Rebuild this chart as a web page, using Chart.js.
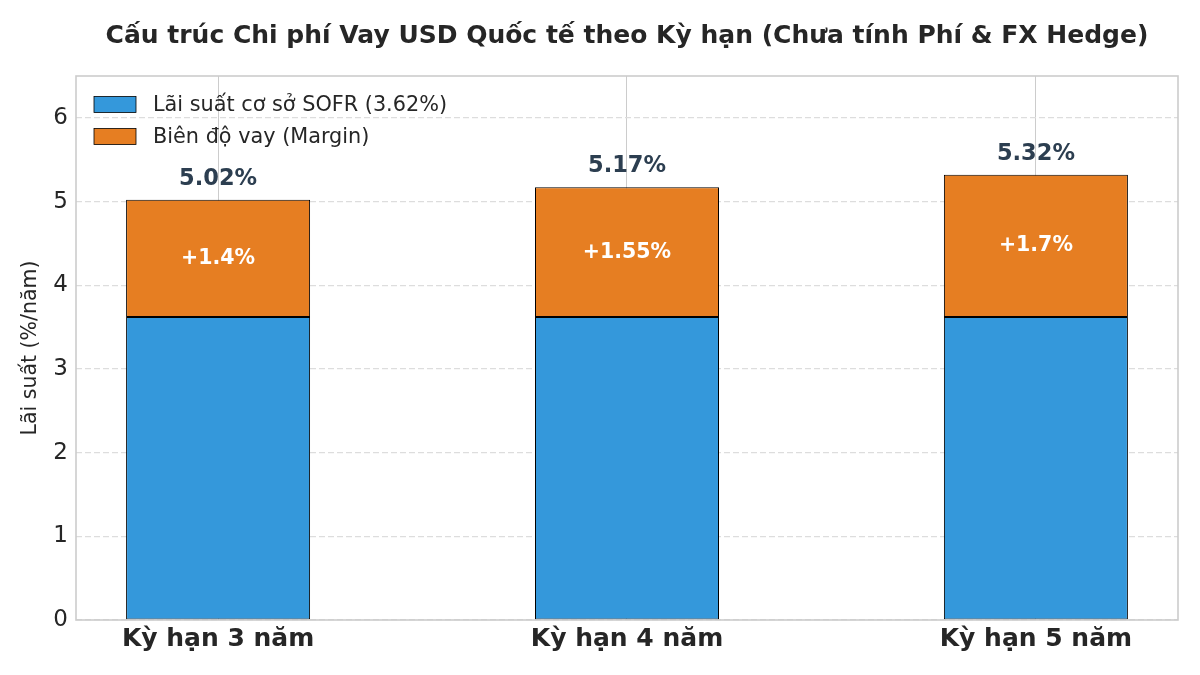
<!DOCTYPE html>
<html>
<head>
<meta charset="utf-8">
<script src="https://cdn.jsdelivr.net/npm/chart.js@4.4.1/dist/chart.umd.min.js"></script>
<style>
html,body{margin:0;padding:0;background:#fff;}
#wrap{width:1200px;height:675px;position:relative;}
</style>
</head>
<body>
<div id="wrap"><canvas id="c" width="1200" height="675"></canvas></div>
<script>
const categories = ['Kỳ hạn 3 năm', 'Kỳ hạn 4 năm', 'Kỳ hạn 5 năm'];
const sofrValues = [3.62, 3.62, 3.62];
const marginValues = [1.4, 1.55, 1.7];
const seriesLabels = ['Lãi suất cơ sở SOFR (3.62%)', 'Biên độ vay (Margin)'];
const yTicks = [0, 1, 2, 3, 4, 5, 6];
const titleText = 'Cấu trúc Chi phí Vay USD Quốc tế theo Kỳ hạn (Chưa tính Phí & FX Hedge)';
const yTitle = 'Lãi suất (%/năm)';

const FONT = "'DejaVu Sans', sans-serif";

const overlay = {
  id: 'overlay',
  afterDatasetsDraw(chart) {
    const ctx = chart.ctx;
    const x = chart.scales.x, y = chart.scales.y;
    ctx.save();
    for (let i = 0; i < categories.length; i++) {
      const total = sofrValues[i] + marginValues[i];
      const cx = x.getPixelForValue(i);
      ctx.textAlign = 'center';
      ctx.textBaseline = 'middle';
      ctx.fillStyle = '#ffffff';
      ctx.font = "bold 20.5px " + FONT;
      ctx.fillText('+' + marginValues[i] + '%', cx, y.getPixelForValue(sofrValues[i] + marginValues[i] / 2));
      ctx.fillStyle = '#2c3e50';
      ctx.font = "bold 22.5px " + FONT;
      ctx.fillText(total.toFixed(2) + '%', cx, y.getPixelForValue(total) - 21);
    }
    const a = chart.chartArea;
    ctx.strokeStyle = '#cccccc';
    ctx.lineWidth = 1.6;
    ctx.strokeRect(a.left, a.top, a.right - a.left, a.bottom - a.top);
    const ds = chart.data.datasets;
    ctx.font = "20.8px " + FONT;
    ctx.textAlign = 'left';
    ctx.textBaseline = 'middle';
    for (let k = 0; k < ds.length; k++) {
      const ly = 104.5 + k * 32;
      ctx.fillStyle = ds[k].backgroundColor;
      ctx.fillRect(94, ly - 8, 42, 16);
      ctx.strokeStyle = '#000';
      ctx.lineWidth = 0.8;
      ctx.strokeRect(94, ly - 8, 42, 16);
      ctx.fillStyle = '#262626';
      ctx.fillText(ds[k].label, 153, ly + 1);
    }
    ctx.restore();
  }
};

new Chart(document.getElementById('c'), {
  type: 'bar',
  data: {
    datasets: [
      {
        label: seriesLabels[0],
        data: sofrValues.map((v, i) => ({x: i, y: v})),
        backgroundColor: '#3498db',
        borderColor: '#000000',
        borderWidth: 1,
        borderSkipped: false
      },
      {
        label: seriesLabels[1],
        data: marginValues.map((v, i) => ({x: i, y: v})),
        backgroundColor: '#e67e22',
        borderColor: '#000000',
        borderWidth: 1,
        borderSkipped: false
      }
    ]
  },
  options: {
    responsive: false,
    animation: false,
    devicePixelRatio: 1,
    layout: {padding: {left: 0, right: 22, top: 0, bottom: 0}},
    datasets: {bar: {categoryPercentage: 0.45, barPercentage: 1.0}},
    plugins: {
      legend: {display: false},
      tooltip: {enabled: false},
      title: {
        display: true,
        text: titleText,
        fullSize: false,
        color: '#262626',
        font: {family: FONT, size: 25, weight: 'bold'},
        padding: {top: 21, bottom: 25}
      }
    },
    scales: {
      x: {
        type: 'linear',
        stacked: true,
        offset: false,
        min: -0.3475,
        max: 2.3475,
        afterBuildTicks(s) { s.ticks = categories.map((c, i) => ({value: i})); },
        afterFit(s) { s.height = 55; },
        ticks: {
          callback: (v) => categories[v],
          color: '#262626',
          font: {family: FONT, size: 25, weight: 'bold'},
          padding: 4,
          maxRotation: 0
        },
        grid: {color: '#cccccc', lineWidth: 1, drawTicks: false, offset: false},
        border: {display: false}
      },
      y: {
        stacked: true,
        min: 0,
        max: 6.5,
        afterBuildTicks(s) { s.ticks = yTicks.map(v => ({value: v})); },
        afterFit(s) { s.width = 76; },
        ticks: {
          color: '#262626',
          font: {family: FONT, size: 23},
          padding: 8
        },
        grid: {color: '#dddddd', lineWidth: 1.2, drawTicks: false},
        border: {display: false, dash: [6, 3]},
        title: {
          display: true,
          text: yTitle,
          color: '#262626',
          font: {family: FONT, size: 20.5},
          padding: {top: 18, bottom: 0}
        }
      }
    }
  },
  plugins: [overlay]
});
</script>
</body>
</html>
